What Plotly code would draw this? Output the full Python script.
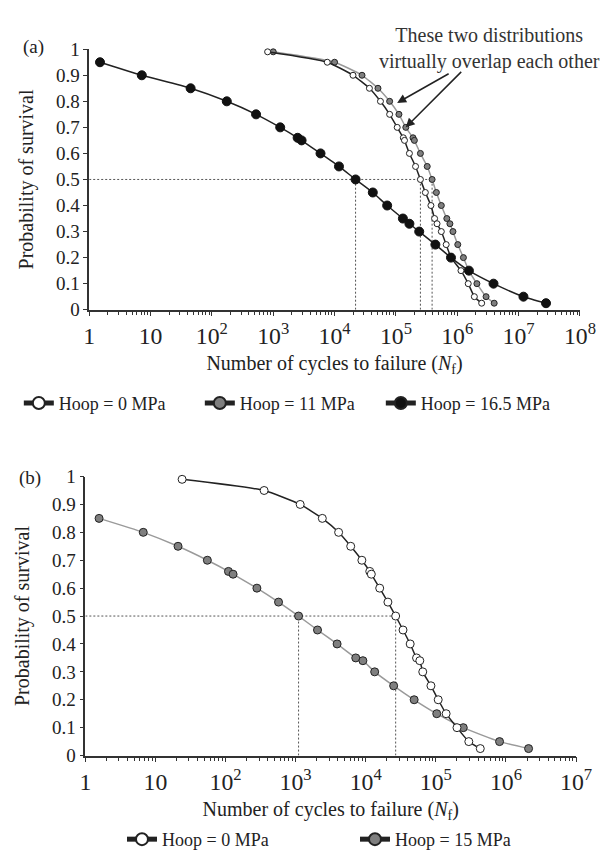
import plotly.graph_objects as go

# ---------------- data: panel (a) ----------------
p_a_0 = [0.99, 0.95, 0.9, 0.85, 0.8, 0.75, 0.7, 0.66, 0.65, 0.6, 0.55, 0.5, 0.45,
         0.4, 0.35, 0.33, 0.3, 0.25, 0.2, 0.15, 0.1, 0.05, 0.025]
N_a_0 = [810, 7600, 20000, 37000, 56000, 79000, 105000, 132000, 138000, 166000,
         209000, 251000, 302000, 372000, 427000, 468000, 550000, 660000, 794000,
         1.15e6, 1.51e6, 1.9e6, 2.5e6]

p_a_11 = [0.99, 0.95, 0.9, 0.85, 0.8, 0.75, 0.7, 0.66, 0.65, 0.6, 0.55, 0.5, 0.45,
          0.4, 0.35, 0.33, 0.3, 0.25, 0.2, 0.15, 0.1, 0.05, 0.025]
N_a_11 = [1000, 10000, 28000, 51000, 79000, 112000, 145000, 190000, 200000, 251000,
          324000, 389000, 457000, 550000, 676000, 759000, 851000, 1.02e6, 1.26e6,
          1.55e6, 2.09e6, 2.95e6, 4.0e6]

p_a_165 = [0.95, 0.9, 0.85, 0.8, 0.75, 0.7, 0.66, 0.65, 0.6, 0.55, 0.5, 0.45, 0.4,
           0.35, 0.33, 0.3, 0.25, 0.2, 0.15, 0.1, 0.05, 0.025]
N_a_165 = [1.5, 7.2, 45, 175, 525, 1300, 2500, 2900, 5900, 11800, 22000, 42000,
           72000, 130000, 166000, 240000, 440000, 790000, 1.55e6, 3.9e6, 1.2e7, 2.8e7]

# ---------------- data: panel (b) ----------------
p_b_0 = [0.99, 0.95, 0.9, 0.85, 0.8, 0.75, 0.7, 0.66, 0.65, 0.6, 0.55, 0.5, 0.45,
         0.4, 0.35, 0.34, 0.3, 0.25, 0.2, 0.15, 0.1, 0.05, 0.025]
N_b_0 = [24, 355, 1160, 2400, 4100, 6100, 8800, 11400, 12000, 15800, 20700, 26700,
         34000, 43000, 53000, 59000, 65000, 85000, 108000, 140000, 200000, 295000,
         430000]

p_b_15 = [0.85, 0.8, 0.75, 0.7, 0.66, 0.65, 0.6, 0.55, 0.5, 0.45, 0.4, 0.35, 0.34,
          0.3, 0.25, 0.2, 0.15, 0.1, 0.05, 0.025]
N_b_15 = [1.57, 6.7, 21, 55, 110, 128, 280, 570, 1100, 2050, 3900, 7200, 9100,
          13400, 25000, 49000, 103000, 246000, 810000, 2.1e6]

y_ticks = [0, 0.1, 0.2, 0.3, 0.4, 0.5, 0.6, 0.7, 0.8, 0.9, 1]
median_p = 0.5

FONT = "Liberation Serif"
W, H = 613, 861
TXT = "#222222"


def median_of(N, p):
    return N[p.index(median_p)]


fig = go.Figure()

DARK = "#222222"
GRAYLINE = "#9a9a9a"
GRAYFILL = "#7f7f7f"
DASH = dict(color="#555555", width=1, dash="2px,2px")

# ---- dashed median guides (a) ----
ma0 = median_of(N_a_0, p_a_0)
ma11 = median_of(N_a_11, p_a_11)
ma165 = median_of(N_a_165, p_a_165)
fig.add_trace(go.Scatter(x=[1, max(ma0, ma11, ma165)], y=[median_p, median_p],
                         mode="lines", line=DASH, showlegend=False, hoverinfo="skip",
                         xaxis="x", yaxis="y"))
for m in (ma0, ma11, ma165):
    fig.add_trace(go.Scatter(x=[m, m], y=[0, median_p], mode="lines", line=DASH,
                             showlegend=False, hoverinfo="skip", xaxis="x", yaxis="y"))

# ---- dashed median guides (b) ----
mb0 = median_of(N_b_0, p_b_0)
mb15 = median_of(N_b_15, p_b_15)
fig.add_trace(go.Scatter(x=[1, max(mb0, mb15)], y=[median_p, median_p], mode="lines",
                         line=DASH, showlegend=False, hoverinfo="skip",
                         xaxis="x2", yaxis="y2"))
for m in (mb0, mb15):
    fig.add_trace(go.Scatter(x=[m, m], y=[0, median_p], mode="lines", line=DASH,
                             showlegend=False, hoverinfo="skip", xaxis="x2", yaxis="y2"))

# ---- series (a) ----
fig.add_trace(go.Scatter(
    x=N_a_11, y=p_a_11, name="Hoop = 11 MPa", mode="lines+markers", showlegend=False,
    line=dict(color=GRAYLINE, width=1.5, shape="spline", smoothing=0.5),
    marker=dict(size=6, color=GRAYFILL, line=dict(color=DARK, width=1)),
    xaxis="x", yaxis="y", cliponaxis=False))
fig.add_trace(go.Scatter(
    x=N_a_0, y=p_a_0, name="Hoop = 0 MPa", mode="lines+markers", showlegend=False,
    line=dict(color=DARK, width=1.5, shape="spline", smoothing=0.5),
    marker=dict(size=6, color="white", line=dict(color=DARK, width=1)),
    xaxis="x", yaxis="y", cliponaxis=False))
fig.add_trace(go.Scatter(
    x=N_a_165, y=p_a_165, name="Hoop = 16.5 MPa", mode="lines+markers", showlegend=False,
    line=dict(color=DARK, width=1.5, shape="spline", smoothing=0.5),
    marker=dict(size=9, color="#111111", line=dict(color="#111111", width=1)),
    xaxis="x", yaxis="y", cliponaxis=False))

# ---- series (b) ----
fig.add_trace(go.Scatter(
    x=N_b_15, y=p_b_15, name="Hoop = 15 MPa", mode="lines+markers", showlegend=False,
    line=dict(color=GRAYLINE, width=1.5, shape="spline", smoothing=0.5),
    marker=dict(size=8, color=GRAYFILL, line=dict(color=DARK, width=1)),
    xaxis="x2", yaxis="y2", cliponaxis=False))
fig.add_trace(go.Scatter(
    x=N_b_0, y=p_b_0, name="Hoop = 0 MPa", mode="lines+markers", showlegend=False,
    line=dict(color=DARK, width=1.5, shape="spline", smoothing=0.5),
    marker=dict(size=8, color="white", line=dict(color=DARK, width=1)),
    xaxis="x2", yaxis="y2", cliponaxis=False))

# ---- legend keys (legend-only entries, styled like the printed key) ----
legend_a = [("Hoop = 0 MPa", "white"), ("Hoop = 11 MPa", GRAYFILL),
            ("Hoop = 16.5 MPa", "#111111")]
legend_b = [("Hoop = 0 MPa", "white"), ("Hoop = 15 MPa", GRAYFILL)]
for i, (nm, fc) in enumerate(legend_a):
    fig.add_trace(go.Scatter(x=[None], y=[None], name=nm, mode="lines+markers",
                             line=dict(color=DARK, width=1.5),
                             marker=dict(size=12, color=fc, line=dict(color=DARK, width=1.5)),
                             xaxis="x", yaxis="y", legend="legend", legendrank=i + 1))
for i, (nm, fc) in enumerate(legend_b):
    fig.add_trace(go.Scatter(x=[None], y=[None], name=nm, mode="lines+markers",
                             line=dict(color=DARK, width=1.5),
                             marker=dict(size=12, color=fc, line=dict(color=DARK, width=1.5)),
                             xaxis="x2", yaxis="y2", legend="legend2", legendrank=i + 1))


def xax(domain, rng, anchor):
    return dict(
        type="log", range=rng, domain=domain, anchor=anchor,
        dtick=1, exponentformat="power", showgrid=False, zeroline=False,
        showline=True, linecolor="#333333", linewidth=1.5,
        ticks="outside", ticklen=5, tickcolor="#333333", tickwidth=1,
        minor=dict(ticks="outside", ticklen=4, tickcolor="#333333", tickwidth=1,
                   showgrid=False),
        tickfont=dict(family=FONT, size=19, color=TXT),
        title=dict(text="Number of cycles to failure (<i>N</i><sub>f</sub>)",
                   font=dict(family=FONT, size=20, color=TXT), standoff=8),
    )


def yax(domain, anchor):
    return dict(
        range=[0, 1], domain=domain, anchor=anchor, tickvals=y_ticks,
        showgrid=False, zeroline=False, showline=True, linecolor="#333333",
        linewidth=1.5, ticks="outside", ticklen=4, tickcolor="#333333",
        tickfont=dict(family=FONT, size=19, color=TXT),
        title=dict(text="Probability of survival",
                   font=dict(family=FONT, size=20, color=TXT), standoff=17),
    )


fig.update_layout(
    width=W, height=H,
    margin=dict(l=0, r=0, t=0, b=0),
    paper_bgcolor="white", plot_bgcolor="white",
    font=dict(family=FONT, size=18, color=TXT),
    xaxis=xax([78 / W, 587 / W], [0, 8], "y"),
    yaxis=yax([1 - 299 / H, 1 - 32 / H], "x"),
    xaxis2=xax([74 / W, 583 / W], [0, 7], "y2"),
    yaxis2=yax([1 - 756 / H, 1 - 470 / H], "x2"),
    legend=dict(orientation="h", x=5 / W, xanchor="left", y=1 - 395 / H,
                yanchor="middle", font=dict(family=FONT, size=18, color=TXT),
                itemsizing="constant", entrywidth=136, traceorder="normal",
                bgcolor="rgba(0,0,0,0)"),
    legend2=dict(orientation="h", x=112 / W, xanchor="left", y=1 - 842 / H,
                 yanchor="middle", font=dict(family=FONT, size=18, color=TXT),
                 itemsizing="constant", entrywidth=188, traceorder="normal",
                 bgcolor="rgba(0,0,0,0)"),
    showlegend=True,
)

annotations = [
    dict(text="(a)", x=20 / W, y=1 - 30 / H, xref="paper", yref="paper",
         xanchor="center", yanchor="middle", showarrow=False,
         font=dict(family=FONT, size=19, color=TXT)),
    dict(text="(b)", x=17 / W, y=1 - 471 / H, xref="paper", yref="paper",
         xanchor="center", yanchor="middle", showarrow=False,
         font=dict(family=FONT, size=19, color=TXT)),
    dict(text="These two distributions<br>virtually overlap each other",
         x=493 / W, y=1 - 31 / H, xref="paper", yref="paper", showarrow=False,
         xanchor="center", yanchor="middle",
         font=dict(family=FONT, size=20, color="#333333"), align="center"),
    dict(text="", x=5.02, y=0.794, xref="x", yref="y", showarrow=True,
         ax=53, ay=-30, axref="pixel", ayref="pixel", arrowhead=2, arrowsize=1.2,
         arrowwidth=1.5, arrowcolor="#222222", standoff=0),
    dict(text="", x=5.16, y=0.70, xref="x", yref="y", showarrow=True,
         ax=57, ay=-57, axref="pixel", ayref="pixel", arrowhead=2, arrowsize=1.2,
         arrowwidth=1.5, arrowcolor="#222222", standoff=0),
]
fig.update_layout(annotations=annotations)

fig.write_html("out.html")
